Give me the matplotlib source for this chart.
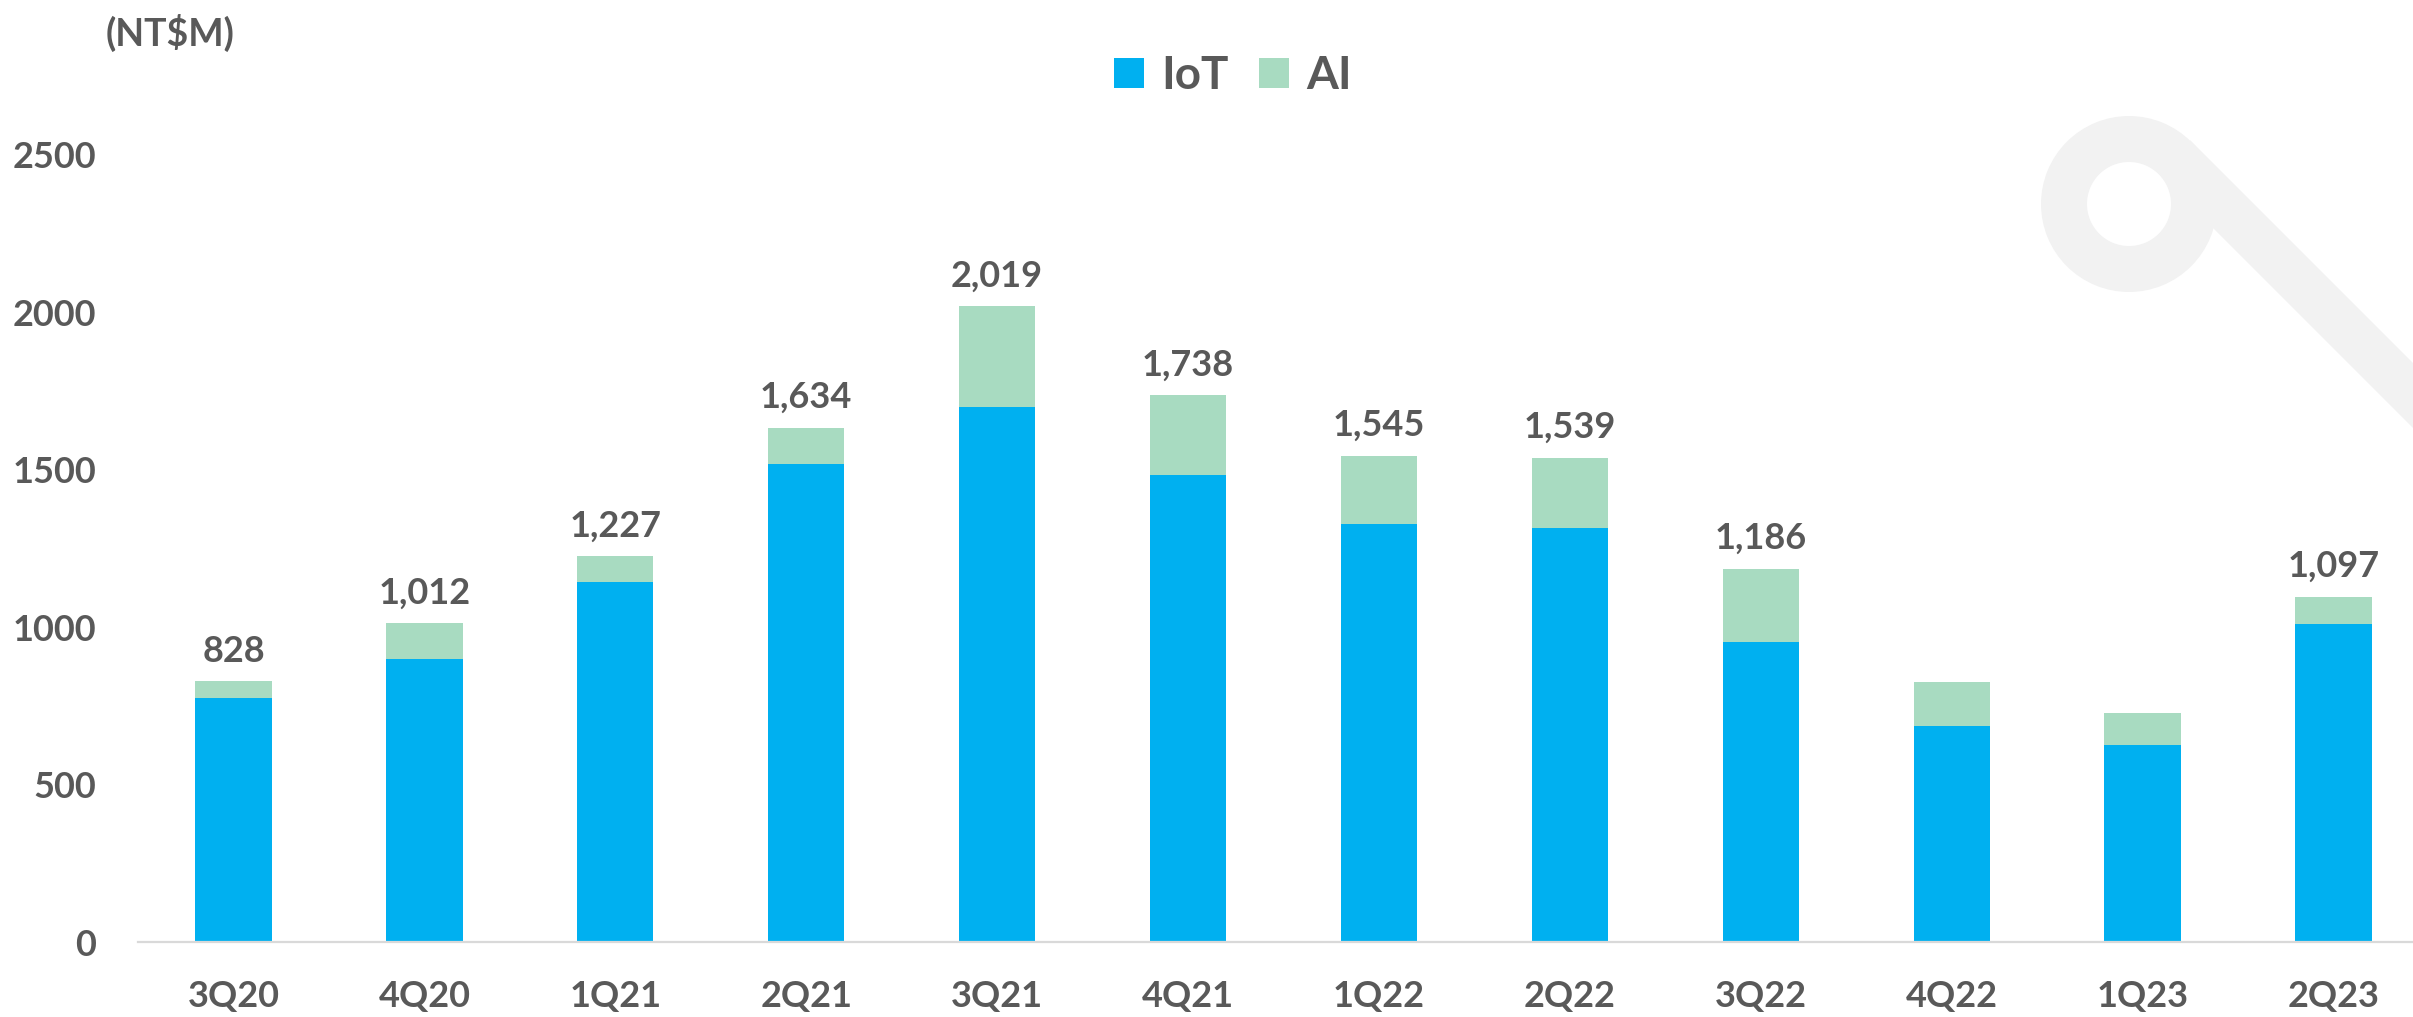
import matplotlib
matplotlib.use("Agg")
import matplotlib.pyplot as plt
from matplotlib.patches import Patch, Wedge, Polygon

# ---- data (NT$M) ----
quarters = ["3Q20", "4Q20", "1Q21", "2Q21", "3Q21", "4Q21",
            "1Q22", "2Q22", "3Q22", "4Q22", "1Q23", "2Q23"]
iot = [775, 900, 1143, 1519, 1699, 1485, 1329, 1315, 952, 687, 626, 1010]
ai = [53, 112, 84, 115, 320, 253, 216, 224, 234, 139, 101, 87]
# totals shown above the bars (two quarters have no label in the source)
total_labels = [828, 1012, 1227, 1634, 2019, 1738, 1545, 1539, 1186,
                None, None, 1097]
yticks = [0, 500, 1000, 1500, 2000, 2500]

C_IOT = "#00B0F0"
C_AI = "#A8DBC1"
C_TXT = "#595959"
C_MARK = "#F2F2F2"
FONT = ["Lato", "DejaVu Sans"]

plt.rcParams["font.family"] = FONT
plt.rcParams["font.weight"] = "bold"

W, H = 2413, 1017
fig = plt.figure(figsize=(W / 100, H / 100), dpi=100)

# ── watermark in the background (pixel coordinates) ──
bg = fig.add_axes([0, 0, 1, 1], zorder=0)
bg.set_xlim(0, W)
bg.set_ylim(H, 0)
bg.axis("off")
bg.add_patch(Wedge((2129, 204), 88, 0, 360, width=46,
                   facecolor=C_MARK, edgecolor="none", lw=0))
bg.add_patch(Polygon([(2190, 140), (2700, 650), (2700, 715), (2213, 228)],
                     closed=True, facecolor=C_MARK, edgecolor="none", lw=0))

# ── main chart ──
ax = fig.add_axes([138 / W, 1 - 942 / H, 2291 / W, 787 / H], zorder=1)
ax.patch.set_alpha(0)

x = list(range(len(quarters)))
ax.bar(x, iot, width=0.40, color=C_IOT, label="IoT", zorder=2)
ax.bar(x, ai, width=0.40, bottom=iot, color=C_AI, label="AI", zorder=2)

for i, v in enumerate(total_labels):
    if v is None:
        continue
    ax.annotate(f"{v:,}", (i, iot[i] + ai[i]), xytext=(0, 14),
                textcoords="offset points", ha="center", va="baseline",
                fontsize=26, fontweight="bold", color=C_TXT)

ax.set_xlim(-0.5, len(quarters) - 0.5)
ax.set_ylim(0, 2500)
ax.set_xticks(x)
ax.set_xticklabels(quarters)
ax.set_yticks(yticks)
ax.tick_params(axis="both", length=0, labelsize=26, labelcolor=C_TXT)
ax.tick_params(axis="x", pad=27)
ax.tick_params(axis="y", pad=30)
for lab in ax.get_xticklabels() + ax.get_yticklabels():
    lab.set_fontweight("bold")

for s in ["top", "right", "left"]:
    ax.spines[s].set_visible(False)
ax.spines["bottom"].set_color("#D9D9D9")
ax.spines["bottom"].set_linewidth(1.6)

fig.text(170 / W, 1 - 33 / H, "(NT$M)", ha="center", va="center",
         fontsize=27, fontweight="bold", color=C_TXT)

handles = [Patch(facecolor=C_IOT, label="IoT"), Patch(facecolor=C_AI, label="AI")]
fig.legend(handles=handles, loc="center", bbox_to_anchor=(0.511, 0.925),
           ncol=2, frameon=False, labelcolor=C_TXT,
           handlelength=0.65, handleheight=0.65, handletextpad=0.37,
           columnspacing=0.67, prop={"weight": "bold", "size": 33})

fig.savefig("out.png", dpi=100)
